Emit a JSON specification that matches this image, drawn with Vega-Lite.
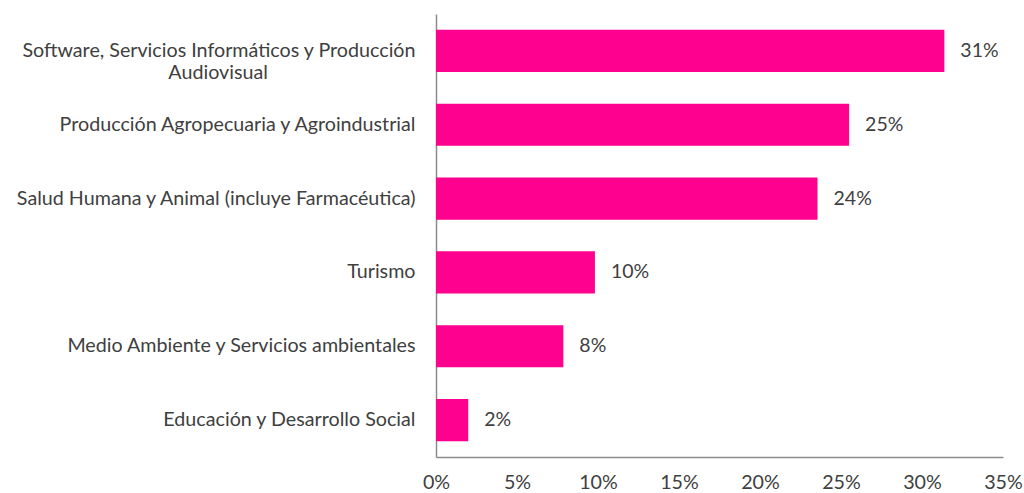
{
  "$schema": "https://vega.github.io/schema/vega-lite/v6.json",
  "width": 567,
  "height": 443,
  "autosize": "none",
  "padding": {"left": 436, "top": 14, "right": 21, "bottom": 36},
  "background": "white",
  "config": {
    "view": {"stroke": null},
    "font": "Lato",
    "axis": {"labelFont": "Lato", "labelFontSize": 19.7, "labelColor": "#404040", "domainColor": "#8C8C8C", "domainWidth": 1.5, "grid": false, "ticks": false, "tickSize": 0, "title": null}
  },
  "data": {
    "values": [
      {"cat": "Software, Servicios Informáticos y Producción Audiovisual", "value": 0.3138, "label": "31%"},
      {"cat": "Producción Agropecuaria y Agroindustrial", "value": 0.255, "label": "25%"},
      {"cat": "Salud Humana y Animal (incluye Farmacéutica)", "value": 0.2355, "label": "24%"},
      {"cat": "Turismo", "value": 0.0981, "label": "10%"},
      {"cat": "Medio Ambiente y Servicios ambientales", "value": 0.0786, "label": "8%"},
      {"cat": "Educación y Desarrollo Social", "value": 0.0199, "label": "2%"}
    ]
  },
  "encoding": {
    "y": {
      "field": "cat",
      "type": "nominal",
      "sort": null,
      "scale": {"paddingInner": 0.43, "paddingOuter": 0.215},
      "axis": {
        "labelPadding": 21,
        "labelLimit": 0,
        "labelLineHeight": 22,
        "labelAlign": "right",
        "labelBaseline": "middle",
        "labelExpr": "datum.value == 'Software, Servicios Informáticos y Producción Audiovisual' ? ['Software, Servicios Informáticos y Producción', 'Audiovisual\u2003\u2003\u2003\u2003\u2003\u2003\u2003\u2003\u2003\u2003\u2060'] : datum.value"
      }
    },
    "x": {
      "field": "value",
      "type": "quantitative",
      "scale": {"domain": [0, 0.35], "nice": false},
      "axis": {"values": [0, 0.05, 0.1, 0.15, 0.2, 0.25, 0.3, 0.35], "format": ".0%", "labelPadding": 15, "labelFlush": false}
    }
  },
  "layer": [
    {"mark": {"type": "bar", "color": "#FF008F"}},
    {"mark": {"type": "text", "align": "left", "baseline": "middle", "dx": 16, "fontSize": 19.5, "color": "#404040", "font": "Lato"}, "encoding": {"text": {"field": "label"}}}
  ]
}
